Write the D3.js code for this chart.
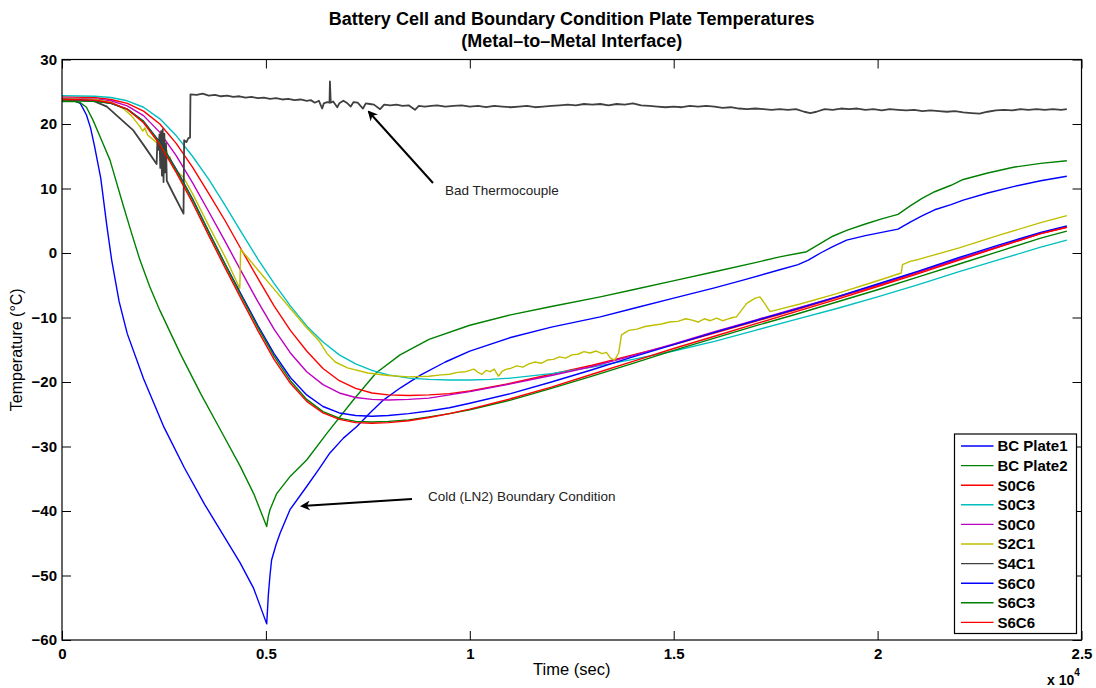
<!DOCTYPE html>
<html lang="en">
<head>
  <meta charset="UTF-8">
  <title>Battery Cell and Boundary Condition Plate Temperatures</title>
  <script src="https://d3js.org/d3.v7.min.js"></script>
  <style>
    body { margin: 0; background: #fff; }
    text { font-family: "Liberation Sans", Arial, Helvetica, sans-serif; }
    .tick text { font-size: 15px; font-weight: bold; fill: #000; }
    .tick line { stroke: #000; }
    .domain { display: none; }
    .series { fill: none; stroke-width: 1.4px; stroke-linejoin: round; }
  </style>
</head>
<body>
<div id="viz"></div>
<script>
  // data: [time (s), temperature (C)]
  var bcPlate1 = [[0,23.6],[300,23.6],[450,23.2],[600,21.4],[700,19.4],[800,16.5],[950,11.6],[1100,4.2],[1218,-1.1],
    [1400,-7.5],[1600,-12.5],[2000,-19.5],[2500,-27.0],[3000,-33.3],[3500,-39.0],[4000,-44.2],[4365,-48.0],[4700,-52.0],
    [5020,-57.5],[5060,-53.0],[5100,-50.0],[5140,-47.6],[5250,-45.2],[5350,-43.4],[5590,-39.8],[6000,-36.2],[6300,-33.5],
    [6570,-31.0],[6900,-28.7],[7230,-26.9],[7550,-24.8],[7880,-22.8],[8300,-20.9],[8800,-18.9],[9400,-16.9],[10000,-15.2],
    [11000,-13.1],[12000,-11.5],[13200,-9.9],[14000,-8.6],[15000,-7.0],[16000,-5.4],[16700,-4.2],[17600,-2.6],[18050,-1.8],
    [18300,-1.1],[18600,0.0],[18900,1.0],[19240,2.0],[19700,2.7],[20100,3.2],[20500,3.7],[20800,4.8],[21100,5.8],
    [21400,6.7],[21800,7.5],[22100,8.2],[22700,9.3],[23330,10.3],[24000,11.2],[24640,11.9]];

  var bcPlate2 = [[0,23.5],[300,23.5],[450,23.3],[600,22.6],[760,20.6],[950,17.8],[1177,14.4],[1500,7.4],[1700,3.2],
    [1912,-1.1],[2150,-5.2],[2400,-8.9],[2900,-15.6],[3400,-21.8],[3900,-27.6],[4365,-33.0],[4700,-37.3],[5020,-42.4],
    [5060,-40.8],[5100,-39.8],
    [5265,-37.3],[5600,-34.6],[6000,-32.1],[6490,-28.0],[7143,-22.8],[7700,-18.6],[8290,-15.8],[9000,-13.4],[10000,-11.2],
    [11000,-9.6],[12000,-8.3],[13200,-6.8],[14000,-5.7],[15070,-4.2],[16000,-2.9],[17000,-1.5],[17600,-0.6],[18260,0.2],
    [18600,1.5],[18900,2.6],[19240,3.5],[19700,4.5],[20100,5.3],[20500,6.0],[20800,7.3],[21100,8.5],[21400,9.5],
    [21800,10.5],[22100,11.4],[22700,12.4],[23330,13.3],[24000,13.9],[24640,14.3]];

  var s0c6 = [[0,24.2],[800,24.1],[1200,23.8],[1600,23.2],[2000,22.0],[2400,20.0],[2800,17.0],[3200,13.3],[3600,9.2],
    [4000,5.0],[4400,0.5],[4800,-3.9],[5200,-8.2],[5600,-12.0],[6000,-15.2],[6400,-17.9],[6800,-19.8],[7200,-21.0],
    [7600,-21.7],[8000,-22.0],[8500,-22.1],[9000,-22.0],[9500,-21.8],[10000,-21.4],[11000,-20.2],[12000,-18.8],
    [13000,-17.4],[14000,-15.8],[15000,-14.2],[16000,-12.4],[17000,-10.6],[18000,-8.8],[19000,-6.9],[20000,-5.0],
    [21000,-3.0],[22000,-1.0],[23000,1.0],[24000,3.0],[24640,4.0]];

  var s0c3 = [[0,24.4],[800,24.3],[1200,24.1],[1600,23.6],[2000,22.6],[2400,20.8],[2800,18.2],[3200,15.0],[3600,11.4],
    [4000,7.4],[4400,3.2],[4800,-0.9],[5200,-4.7],[5600,-8.2],[6000,-11.3],[6400,-13.8],[6800,-15.8],[7200,-17.2],
    [7600,-18.2],[8000,-18.9],[8500,-19.4],[9000,-19.6],[9500,-19.7],[10000,-19.7],[10500,-19.6],[11000,-19.4],
    [12000,-18.7],[13000,-17.7],[14000,-16.5],[15000,-15.2],[16000,-13.7],[17000,-12.0],[18000,-10.3],[19000,-8.6],
    [20000,-6.8],[21000,-4.9],[22000,-2.9],[23000,-1.0],[24000,0.9],[24640,2.0]];

  var s0c0 = [[0,24.0],[800,23.9],[1200,23.6],[1600,22.8],[2000,21.3],[2400,18.7],[2800,15.1],[3200,10.9],[3600,6.4],
    [4000,1.8],[4400,-2.9],[4800,-7.5],[5200,-11.8],[5600,-15.5],[6000,-18.4],[6400,-20.4],[6800,-21.7],[7200,-22.4],
    [7600,-22.7],[8000,-22.8],[8500,-22.7],[9000,-22.5],[9500,-22.0],[10000,-21.5],[11000,-20.3],[12000,-19.0],
    [13000,-17.6],[14000,-15.9],[15000,-14.1],[16000,-12.2],[17000,-10.4],[18000,-8.6],[19000,-6.8],[20000,-4.9],
    [21000,-2.9],[22000,-0.9],[23000,1.1],[24000,3.1],[24640,4.1]];

  var s2c1 = [[0,23.9],[800,23.8],[1200,23.4],[1500,22.4],[1700,21.3],[1912,19.6],[1980,18.9],[2030,19.4],[2100,18.3],
    [2300,17.2],[2450,16.4],[2567,16.0],[2610,14.6],[2650,14.9],[2730,13.2],[2970,11.8],[3200,9.2],[3600,4.2],
    [4000,-0.6],[4360,-5.5],[4380,0.6],
    [4800,-2.6],[5200,-5.6],[5600,-8.6],[6000,-11.6],[6300,-13.6],[6500,-15.6],[6700,-16.9],[7000,-17.8],[7500,-18.6],
    [8000,-19.0],[8500,-19.2],[9000,-19.1],[9300,-18.9],[9500,-18.8],[9700,-18.5],[9900,-18.4],[10100,-18.0],
    [10200,-18.5],[10300,-18.8],[10400,-18.2],[10500,-18.4],[10600,-18.0],[10700,-19.1],[10800,-18.3],[10900,-18.0],
    [11000,-17.9],[11150,-17.5],[11300,-17.7],[11450,-17.2],[11600,-16.9],[11750,-17.1],[11900,-16.6],[12050,-16.5],
    [12200,-16.1],[12350,-16.3],[12500,-15.8],[12650,-15.7],[12800,-15.3],[12950,-15.5],[13100,-15.2],[13250,-15.6],
    [13350,-15.4],[13450,-16.3],[13550,-16.6],[13650,-15.5],[13720,-12.7],[13900,-12.0],[14100,-11.8],[14300,-11.4],
    [14500,-11.2],[14700,-11.0],[14900,-10.7],[15100,-10.6],[15300,-10.2],[15450,-10.4],[15600,-10.7],[15750,-10.2],
    [15900,-10.5],[16050,-10.1],[16200,-10.5],[16300,-10.3],[16450,-10.0],[16540,-9.9],[16790,-7.8],[17000,-7.0],
    [17115,-6.8],[17250,-8.0],[17360,-9.1],[17600,-8.7],[18100,-7.9],[19000,-6.3],[20000,-4.3],[20580,-3.1],
    [20610,-1.8],[20800,-1.3],[21000,-1.0],[22000,0.8],[23000,2.8],[24000,4.7],[24640,5.8]];

  var s4c1 = [[0,23.8],[500,23.7],[800,23.5],[1100,22.7],[1400,21.0],[1750,19.0],[2050,16.3],[2320,13.8],[2340,17.6],
    [2370,16.0],[2390,18.4],[2410,13.2],[2430,18.9],[2450,12.0],[2470,19.2],[2490,11.0],[2510,18.5],[2530,12.5],
    [2550,17.0],[2570,11.2],[2720,9.3],[2980,6.1],[2995,17.5],[3050,17.2],[3100,17.8],[3140,17.9],[3150,24.6],
    [3300,24.5],[3450,24.7],[3600,24.4],[3750,24.5],[3900,24.3],[4050,24.4],[4200,24.2],[4350,24.3],[4500,24.1],
    [4650,24.2],[4800,24.0],[4950,24.1],[5100,23.9],[5250,24.0],[5400,23.8],[5550,23.9],[5700,23.7],[5850,23.8],
    [6000,23.6],[6100,23.7],[6200,23.3],[6300,23.6],[6380,22.4],[6420,23.2],[6500,23.4],[6560,23.3],[6570,26.6],
    [6590,23.3],[6650,23.5],[6750,22.6],[6800,23.2],[6900,23.6],[7000,23.2],[7080,22.7],[7150,23.4],[7250,23.3],
    [7380,22.4],[7450,23.2],[7550,23.1],[7650,23.0],[7800,22.3],[7900,23.0],[8050,22.9],[8200,23.0],[8350,22.8],
    [8500,22.9],[8655,22.2],[8750,22.8],[8900,22.7],[9050,22.8],[9200,22.9],[9400,22.7],[9600,22.8],[9800,22.9],
    [10000,22.7],[10200,22.8],[10400,22.6],[10600,22.8],[10800,22.7],[11000,22.6],[11200,22.7],[11400,22.8],
    [11600,22.6],[11800,22.7],[12000,22.8],[12200,22.9],[12400,23.0],[12600,22.9],[12800,23.1],[13000,23.0],
    [13200,23.1],[13400,22.9],[13600,23.1],[13800,23.0],[14000,23.2],[14200,22.9],[14400,22.8],[14600,22.7],
    [14800,22.6],[15000,22.7],[15200,22.6],[15400,22.8],[15600,22.7],[15800,22.8],[16000,22.7],[16200,22.5],
    [16400,22.6],[16600,22.4],[16800,22.3],[17000,22.4],[17200,22.3],[17400,22.2],[17600,22.3],[17800,22.2],
    [18000,22.3],[18200,21.9],[18350,21.7],[18500,21.9],[18700,22.3],[18900,22.2],[19100,22.4],[19300,22.3],
    [19500,22.4],[19700,22.2],[19900,22.3],[20100,22.1],[20300,22.3],[20500,22.2],[20700,22.1],[20900,22.2],
    [21100,22.0],[21300,22.1],[21500,22.0],[21700,21.9],[21900,22.0],[22100,21.8],[22300,21.7],[22500,21.6],
    [22700,21.9],[22900,22.1],[23100,22.2],[23300,22.1],[23500,22.3],[23700,22.2],[23900,22.3],[24100,22.2],
    [24300,22.3],[24500,22.2],[24640,22.3]];

  var s6c0 = [[0,23.7],[800,23.6],[1200,23.2],[1600,22.3],[2000,20.4],[2400,17.2],[2800,13.0],[3200,8.4],[3600,3.3],
    [4000,-1.7],[4400,-6.5],[4800,-11.2],[5200,-15.6],[5600,-19.3],[6000,-22.0],[6400,-23.8],[6800,-24.8],[7200,-25.2],
    [7600,-25.3],[8000,-25.2],[8500,-24.9],[9000,-24.5],[9500,-24.0],[10000,-23.3],[11000,-21.8],[12000,-20.0],
    [13000,-18.1],[14000,-16.1],[15000,-14.2],[16000,-12.3],[17000,-10.5],[18000,-8.7],[19000,-6.8],[20000,-4.8],
    [21000,-2.8],[22000,-0.7],[23000,1.3],[24000,3.2],[24640,4.2]];

  var s6c3 = [[0,23.6],[800,23.5],[1200,23.2],[1600,22.3],[2000,20.4],[2400,17.1],[2800,12.9],[3200,8.3],[3600,3.2],
    [4000,-1.8],[4400,-6.7],[4800,-11.5],[5200,-16.0],[5600,-19.8],[6000,-22.7],[6400,-24.6],[6800,-25.6],[7200,-26.1],
    [7600,-26.2],[8000,-26.1],[8500,-25.9],[9000,-25.4],[9500,-24.9],[10000,-24.3],[11000,-22.8],[12000,-21.0],
    [13000,-19.1],[14000,-17.1],[15000,-15.1],[16000,-13.2],[17000,-11.3],[18000,-9.5],[19000,-7.6],[20000,-5.7],
    [21000,-3.7],[22000,-1.7],[23000,0.3],[24000,2.3],[24640,3.4]];

  var s6c6 = [[0,23.8],[800,23.7],[1200,23.3],[1600,22.3],[2000,20.2],[2400,16.8],[2800,12.5],[3200,7.8],[3600,2.7],
    [4000,-2.3],[4400,-7.2],[4800,-12.0],[5200,-16.5],[5600,-20.2],[6000,-23.0],[6400,-24.8],[6800,-25.8],[7200,-26.3],
    [7600,-26.4],[8000,-26.3],[8500,-26.0],[9000,-25.5],[9500,-24.9],[10000,-24.2],[11000,-22.6],[12000,-20.8],
    [13000,-18.8],[14000,-16.8],[15000,-14.8],[16000,-12.9],[17000,-11.0],[18000,-9.1],[19000,-7.2],[20000,-5.2],
    [21000,-3.2],[22000,-1.1],[23000,1.0],[24000,3.0],[24640,4.0]];

  var seriesNames = ["BC Plate1", "BC Plate2", "S0C6", "S0C3", "S0C0", "S2C1", "S4C1", "S6C0", "S6C3", "S6C6"];
  var seriesData = [bcPlate1, bcPlate2, s0c6, s0c3, s0c0, s2c1, s4c1, s6c0, s6c3, s6c6];
  var seriesColors = ["#0000ff", "#008000", "#ff0000", "#00bfbf", "#bf00bf", "#bfbf00", "#404040", "#0000ff", "#008000", "#ff0000"];

  var xTicks = [0, 5000, 10000, 15000, 20000, 25000];
  var yTicks = [-60, -50, -40, -30, -20, -10, 0, 10, 20, 30];

  // chart size
  var width = 1096;
  var height = 688;
  var margin = {top: 59.5, right: 14.5, bottom: 48, left: 62};
  var plotW = width - margin.left - margin.right;
  var plotH = height - margin.top - margin.bottom;

  var svg = d3.select("#viz").append("svg")
    .attr("width", width)
    .attr("height", height);

  var x = d3.scaleLinear().domain([0, 25000]).range([0, plotW]);
  var y = d3.scaleLinear().domain([-60, 30]).range([plotH, 0]);

  var g = svg.append("g")
    .attr("transform", "translate(" + margin.left + "," + margin.top + ")");

  g.append("clipPath").attr("id", "clip")
    .append("rect").attr("width", plotW).attr("height", plotH);

  // axes, MATLAB style ticks pointing inward on all four sides
  g.append("g")
    .attr("transform", "translate(0," + plotH + ")")
    .call(d3.axisBottom(x).tickValues(xTicks).tickSize(-9).tickPadding(8)
      .tickFormat(function(d) { return String(d / 1e4); }));
  g.append("g")
    .call(d3.axisTop(x).tickValues(xTicks).tickSize(-9).tickFormat(""));
  g.append("g")
    .call(d3.axisLeft(y).tickValues(yTicks).tickSize(-9).tickPadding(5));
  g.append("g")
    .attr("transform", "translate(" + plotW + ",0)")
    .call(d3.axisRight(y).tickValues(yTicks).tickSize(-9).tickFormat(""));

  // data lines
  var line = d3.line()
    .x(function(d) { return x(d[0]); })
    .y(function(d) { return y(d[1]); });

  g.append("g")
    .attr("clip-path", "url(#clip)")
    .selectAll("path")
    .data(seriesData)
    .enter().append("path")
    .attr("class", "series")
    .attr("stroke", function(d, i) { return seriesColors[i]; })
    .style("stroke-width", function(d, i) { return seriesNames[i] == "S4C1" ? "1.8px" : null; })
    .attr("d", line);

  // box
  g.append("rect")
    .attr("width", plotW)
    .attr("height", plotH)
    .attr("fill", "none")
    .attr("stroke", "#000")
    .attr("stroke-width", 1.2);

  // title
  svg.append("text")
    .attr("x", margin.left + plotW / 2)
    .attr("y", 24.5)
    .attr("text-anchor", "middle")
    .style("font-size", "18px")
    .style("font-weight", "bold")
    .text("Battery Cell and Boundary Condition Plate Temperatures");
  svg.append("text")
    .attr("x", margin.left + plotW / 2)
    .attr("y", 46.5)
    .attr("text-anchor", "middle")
    .style("font-size", "18px")
    .style("font-weight", "bold")
    .text("(Metal\u2013to\u2013Metal Interface)");

  // axis labels
  svg.append("text")
    .attr("x", margin.left + plotW / 2)
    .attr("y", 675)
    .attr("text-anchor", "middle")
    .style("font-size", "16.5px")
    .text("Time (sec)");
  svg.append("text")
    .attr("transform", "translate(22," + (margin.top + plotH / 2) + ") rotate(-90)")
    .attr("text-anchor", "middle")
    .style("font-size", "16px")
    .text("Temperature (\u00b0C)");

  var expo = svg.append("text")
    .attr("x", 1047)
    .attr("y", 685)
    .style("font-size", "14px")
    .style("font-weight", "bold");
  expo.append("tspan").text("x 10");
  expo.append("tspan").attr("dy", -9).style("font-size", "10px").text("4");

  // annotations
  svg.append("defs").append("marker")
    .attr("id", "head")
    .attr("viewBox", "0 0 10 10")
    .attr("refX", 8)
    .attr("refY", 5)
    .attr("markerWidth", 5)
    .attr("markerHeight", 5)
    .attr("markerUnits", "strokeWidth")
    .attr("orient", "auto")
    .append("path")
    .attr("d", "M0,0 L10,5 L0,10 L3,5 Z")
    .attr("fill", "#000");

  var notes = [
    {text: "Bad Thermocouple", tx: 445, ty: 195, x1: 433, y1: 183, x2: 369, y2: 112},
    {text: "Cold (LN2) Boundary Condition", tx: 428, ty: 501, x1: 412, y1: 499, x2: 302, y2: 506}
  ];
  notes.forEach(function(n) {
    svg.append("line")
      .attr("x1", n.x1).attr("y1", n.y1)
      .attr("x2", n.x2).attr("y2", n.y2)
      .attr("stroke", "#000")
      .attr("stroke-width", 2)
      .attr("marker-end", "url(#head)");
    svg.append("text")
      .attr("x", n.tx)
      .attr("y", n.ty)
      .style("font-size", "13.5px")
      .style("fill", "#222")
      .text(n.text);
  });

  // legend
  var legend = svg.append("g").attr("transform", "translate(954.5,434)");
  legend.append("rect")
    .attr("width", 122)
    .attr("height", 199.5)
    .attr("fill", "#fff")
    .attr("stroke", "#000")
    .attr("stroke-width", 1.2);
  var items = legend.selectAll("g.item")
    .data(seriesNames)
    .enter().append("g")
    .attr("class", "item")
    .attr("transform", function(d, i) { return "translate(0," + (12 + i * 19.6) + ")"; });
  items.append("line")
    .attr("x1", 6.5).attr("x2", 39)
    .attr("stroke-width", 1.4)
    .attr("stroke", function(d, i) { return seriesColors[i]; });
  items.append("text")
    .attr("x", 43)
    .attr("y", 5.3)
    .style("font-size", "15px")
    .style("font-weight", "bold")
    .text(function(d) { return d; });
</script>
</body>
</html>
